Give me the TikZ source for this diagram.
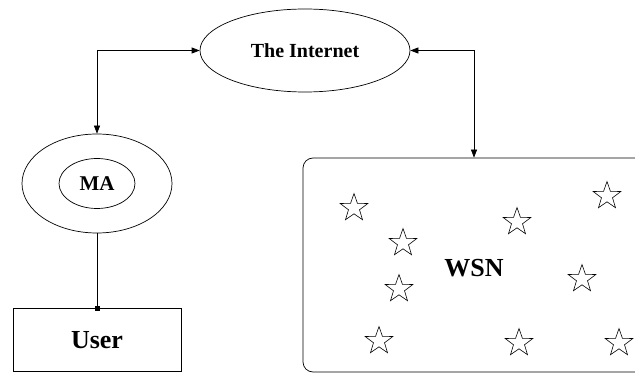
\documentclass[tikz,border=0pt]{standalone}
\usepackage{fontspec}
\setmainfont{Liberation Serif}
\usetikzlibrary{shapes.geometric,arrows.meta}
\begin{document}
\begin{tikzpicture}[x=1pt,y=-1pt,line width=0.7pt,
  oval/.style={draw,ellipse,inner sep=0pt},
  lbl/.style={font=\bfseries},
  twoway/.style={{Triangle[length=8pt,width=6pt]}-{Triangle[length=8pt,width=6pt]}},
  sensor/.style={draw,star,star points=5,star point ratio=2.5,minimum size=29pt,inner sep=0pt,line width=0.6pt}]
\useasboundingbox (0,0) rectangle (635,374);
\clip (0,0) rectangle (635,374);
\node[oval,minimum width=210pt,minimum height=83pt] (inet) at (305,50.5) {};
\node[lbl,font=\bfseries\fontsize{20}{24}\selectfont] (inettext) at (inet.center) {The Internet};
\node[oval,minimum width=150pt,minimum height=99pt] (maout) at (97,183.5) {};
\node[oval,minimum width=76pt,minimum height=50pt] (main) at (97,183.5) {};
\node[font=\bfseries\fontsize{21}{24}\selectfont] (matext) at (main.center) {MA};
\node[draw,minimum width=168pt,minimum height=63pt,inner sep=0pt] (user) at (97,340) {};
\node[font=\bfseries\fontsize{26}{30}\selectfont] (usertext) at (user.center) {User};
\node[draw,rounded corners=10pt,minimum width=342pt,minimum height=214pt,inner sep=0pt] (wsn) at (474,265) {};
\node[font=\bfseries\fontsize{26}{30}\selectfont] (wsntext) at (474,268) {WSN};
\draw[twoway] (inet.west) -| (maout.north);
\draw[twoway] (inet.east) -| (wsn.north);
\draw[-{Square[length=5pt,width=5pt]},shorten >=-2.5pt] (maout.south) -- (user.north);
\foreach \i/\x/\y in {1/354/208,2/403/243,3/399/289,4/379/341,5/517/222,6/607/196,7/582/279,8/519/343,9/619/343}
  \node[sensor] (s\i) at (\x,\y) {};
\end{tikzpicture}
\end{document}
